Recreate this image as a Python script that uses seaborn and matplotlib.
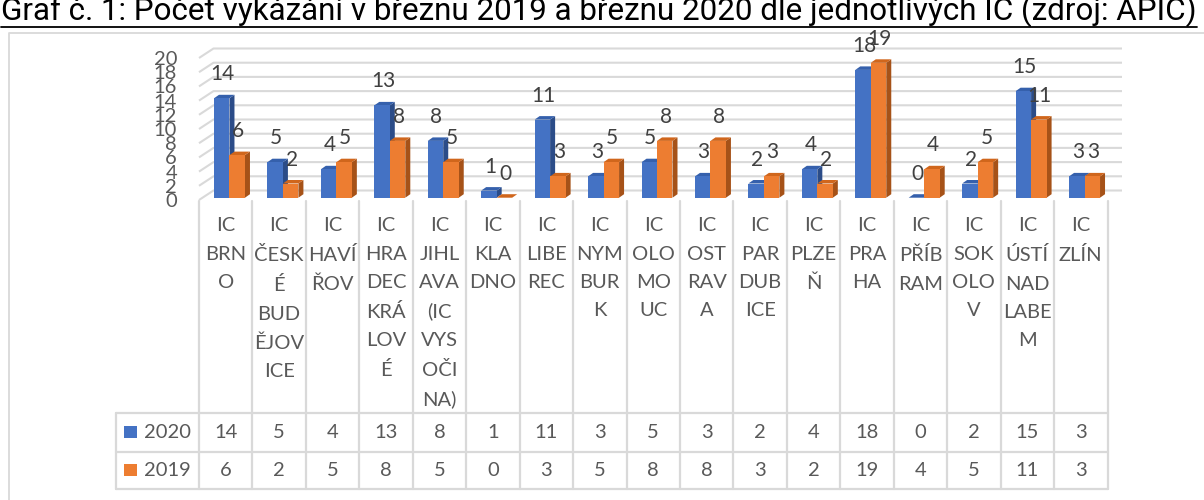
import matplotlib
matplotlib.use("Agg")
import matplotlib.pyplot as plt
from matplotlib.patches import Polygon, Rectangle
from matplotlib.transforms import IdentityTransform, ScaledTranslation
import seaborn as sns
import pandas as pd

# data
nazvy = ["IC BRNO", "IC ČESKÉ BUDĚJOVICE", "IC HAVÍŘOV", "IC HRADEC KRÁLOVÉ",
         "IC JIHLAVA (IC VYSOČINA)", "IC KLADNO", "IC LIBEREC", "IC NYMBURK",
         "IC OLOMOUC", "IC OSTRAVA", "IC PARDUBICE", "IC PLZEŇ", "IC PRAHA",
         "IC PŘÍBRAM", "IC SOKOLOV", "IC ÚSTÍ NAD LABEM", "IC ZLÍN"]
# popisky zalomene jako v Excelu
popisky = ["IC\nBRN\nO", "IC\nČESK\nÉ\nBUD\nĚJOV\nICE", "IC\nHAVÍ\nŘOV",
           "IC\nHRA\nDEC\nKRÁ\nLOV\nÉ", "IC\nJIHL\nAVA\n(IC\nVYS\nOČI\nNA)",
           "IC\nKLA\nDNO", "IC\nLIBE\nREC", "IC\nNYM\nBUR\nK", "IC\nOLO\nMO\nUC",
           "IC\nOST\nRAV\nA", "IC\nPAR\nDUB\nICE", "IC\nPLZE\nŇ", "IC\nPRA\nHA",
           "IC\nPŘÍB\nRAM", "IC\nSOK\nOLO\nV", "IC\nÚSTÍ\nNAD\nLABE\nM", "IC\nZLÍN"]
roky = ["2020", "2019"]
pocet_2020 = [14, 5, 4, 13, 8, 1, 11, 3, 5, 3, 2, 4, 18, 0, 2, 15, 3]
pocet_2019 = [6, 2, 5, 8, 5, 0, 3, 5, 8, 8, 3, 2, 19, 4, 5, 11, 3]
y_ticks = list(range(0, 21, 2))
titulek = "Graf č. 1: Počet vykázání v březnu 2019 a březnu 2020 dle jednotlivých IC (zdroj: APIC)"

modra, oranzova = "#4472C4", "#ED7D31"
odstiny = {"2020": ("#3560AC", "#2B4C88"), "2019": ("#D0661C", "#A65218")}  # top, side
seda, text_c, mrizka = "#595959", "#404040", "#D9D9D9"

df = pd.DataFrame({
    "IC": nazvy * 2,
    "rok": [roky[0]] * len(nazvy) + [roky[1]] * len(nazvy),
    "pocet": pocet_2020 + pocet_2019,
})

sns.set_style("white")
plt.rcParams["font.family"] = ["Lato", "DejaVu Sans"]

W, H, DPI = 1204, 500, 100
fig = plt.figure(figsize=(W / DPI, H / DPI), dpi=DPI)

# pozadi v pixelech (y odshora)
bg = fig.add_axes([0, 0, 1, 1])
bg.set_xlim(0, W)
bg.set_ylim(H, 0)
bg.axis("off")

ax = fig.add_axes([199 / W, (H - 200) / H, (1107.5 - 199) / W, 142 / H])
ax.set_facecolor("none")
sns.barplot(data=df, x="IC", y="pocet", hue="rok", hue_order=roky,
            palette=[modra, oranzova], saturation=1, width=0.58,
            linewidth=0, legend=False, ax=ax)
ax.set_xlim(-0.5, len(nazvy) - 0.5)
ax.set_ylim(0, 20)
ax.set_xlabel("")
ax.set_ylabel("")
sns.despine(ax=ax, left=True, bottom=True)
ax.set_yticks(y_ticks)
ax.tick_params(axis="y", length=0, pad=15.8, labelsize=14.5, labelcolor=seda)
ax.set_xticks(range(len(nazvy)), labels=popisky)
ax.tick_params(axis="x", length=0, pad=12.5, labelsize=14.5, labelcolor=seda)
plt.setp(ax.get_xticklabels(), linespacing=1.8)


def to_px(x, y):
    dx_, dy_ = ax.transData.transform((x, y))
    return dx_, H - dy_


# zadni stena - mrizka
hloubka_x, hloubka_y = 14.5, 9.5
xl, _ = to_px(-0.5, 0)
xr, _ = to_px(len(nazvy) - 0.5, 0)
for v in y_ticks:
    _, yf = to_px(0, v)
    bg.plot([xl, xl + hloubka_x, xr + hloubka_x], [yf, yf - hloubka_y, yf - hloubka_y],
            color=mrizka, lw=1.5, solid_capstyle="butt")

# 3D sloupce
sx, sy = 3.75, 2.3
dx, dy = 5, 3.5
posun = ScaledTranslation(sx / DPI, sy / DPI, fig.dpi_scale_trans)
for i, (cont, rok) in enumerate(zip(ax.containers, roky)):
    vrch, bok = odstiny[rok]
    z = 2 + 2 * i
    for p in cont:
        (x0, y0), (x1, y1) = ax.transData.transform(
            [(p.get_x(), p.get_y()), (p.get_x() + p.get_width(), p.get_y() + p.get_height())])
        x0, x1, y0, y1 = x0 + sx, x1 + sx, y0 + sy, y1 + sy
        p.set_transform(ax.transData + posun)
        p.set_zorder(z)
        ax.add_patch(Polygon([(x1, y0), (x1 + dx, y0 + dy), (x1 + dx, y1 + dy), (x1, y1)],
                             closed=True, facecolor=bok, lw=0, transform=IdentityTransform(),
                             zorder=z - 0.5, clip_on=False))
        ax.add_patch(Polygon([(x0, y1), (x1, y1), (x1 + dx, y1 + dy), (x0 + dx, y1 + dy)],
                             closed=True, facecolor=vrch, lw=0, transform=IdentityTransform(),
                             zorder=z - 0.5, clip_on=False))
        ax.text((x0 + x1) / 2 + 1, y1 + 24, f"{int(round(p.get_height()))}",
                transform=IdentityTransform(), ha="center", va="center",
                fontsize=15, color=text_c, zorder=10)

# tabulka dat
radky = [413, 451.7, 489]
sloupce = [to_px(k - 0.5, 0)[0] for k in range(len(nazvy) + 1)]
for yy in radky:
    bg.plot([116, sloupce[-1]], [yy, yy], color=mrizka, lw=1.6)
bg.plot([116, 116], [radky[0], radky[-1]], color=mrizka, lw=1.6)
for xx in sloupce:
    bg.plot([xx, xx], [201, radky[-1]], color=mrizka, lw=1.6)

for r, (rok, hodnoty, barva) in enumerate(zip(roky, [pocet_2020, pocet_2019], [modra, oranzova])):
    yc = (radky[r] + radky[r + 1]) / 2
    bg.add_patch(Rectangle((124, yc - 6), 13, 12, facecolor=barva, lw=0))
    bg.text(144, yc, rok, ha="left", va="center", fontsize=14.5, color=seda)
    for k, h in enumerate(hodnoty):
        bg.text((sloupce[k] + sloupce[k + 1]) / 2, yc, str(h), ha="center", va="center",
                fontsize=14.5, color=seda)

# ramecek grafu
bg.plot([9, 9, W], [H, 33, 33], color=mrizka, lw=1.3)

# titulek (oriznuty nahore)
renderer = fig.canvas.get_renderer()
t = bg.text(1, 20, titulek, fontfamily=["Roboto", "Liberation Sans", "DejaVu Sans"],
            fontsize=20, ha="left", va="baseline", color="black")
sirka = t.get_window_extent(renderer).width
t.set_fontsize(20 * 1193 / sirka)
bb = t.get_window_extent(renderer)
bg.plot([bb.x0, bb.x1], [27, 27], color="black", lw=1.3)

fig.savefig("out.png", dpi=DPI)
